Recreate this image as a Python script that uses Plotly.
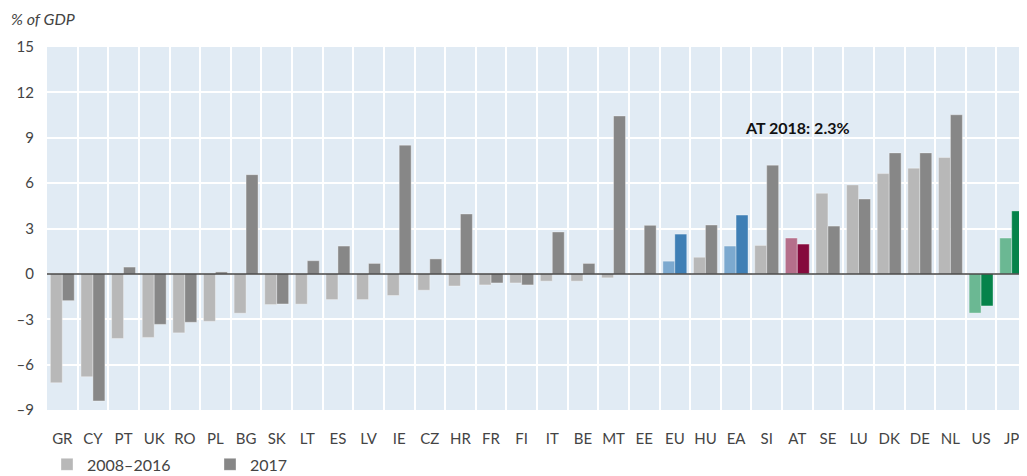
import plotly.graph_objects as go

categories = ["GR", "CY", "PT", "UK", "RO", "PL", "BG", "SK", "LT", "ES", "LV", "IE", "CZ", "HR",
              "FR", "FI", "IT", "BE", "MT", "EE", "EU", "HU", "EA", "SI", "AT", "SE", "LU", "DK",
              "DE", "NL", "US", "JP"]
avg_2008_2016 = [-7.2, -6.8, -4.27, -4.2, -3.9, -3.14, -2.6, -2.03, -2.0, -1.7, -1.7, -1.43, -1.08, -0.8,
                 -0.73, -0.6, -0.48, -0.48, -0.26, 0.02, 0.84, 1.1, 1.84, 1.88, 2.37, 5.33, 5.88, 6.63,
                 6.99, 7.69, -2.59, 2.37]
val_2017 = [-1.77, -8.4, 0.45, -3.34, -3.2, 0.13, 6.56, -1.99, 0.87, 1.84, 0.69, 8.51, 0.99, 3.96,
            -0.6, -0.73, 2.77, 0.69, 10.44, 3.21, 2.63, 3.23, 3.89, 7.19, 1.97, 3.16, 4.95, 8.0,
            8.0, 10.52, -2.12, 4.16]
y_ticks = [-9, -6, -3, 0, 3, 6, 9, 12, 15]
y_ticklabels = ["–9", "–6", "–3", "0", "3", "6", "9", "12", "15"]
annotation_text = "AT 2018: 2.3%"
annotation_value = 9.7

light_map = {"EU": "#7CA9CF", "EA": "#7CA9CF", "AT": "#B56F8B", "US": "#6BB893", "JP": "#6BB893"}
dark_map = {"EU": "#3F7FB5", "EA": "#3F7FB5", "AT": "#850A3D", "US": "#05834A", "JP": "#05834A"}
light_colors = [light_map.get(c, "#B8B8B8") for c in categories]
dark_colors = [dark_map.get(c, "#878787") for c in categories]

font_family = "Lato, 'Open Sans', sans-serif"

fig = go.Figure()
fig.add_trace(go.Bar(x=categories, y=avg_2008_2016, name="2008–2016",
                     marker=dict(color=light_colors, line=dict(color="rgba(255,255,255,0.35)", width=1))))
fig.add_trace(go.Bar(x=categories, y=val_2017, name="2017",
                     marker=dict(color=dark_colors, line=dict(color="rgba(255,255,255,0.35)", width=1))))

fig.add_annotation(x="AT", y=annotation_value, text="<b>" + annotation_text + "</b>", showarrow=False,
                   font=dict(family=font_family, size=16, color="#111111"), xanchor="center", yanchor="middle")
fig.add_annotation(x=0, xref="paper", y=1, yref="paper", xshift=-38, yshift=29,
                   text="<i>% of GDP</i>", showarrow=False, xanchor="left", yanchor="middle",
                   font=dict(family=font_family, size=16, color="#444444"))
# zero reference line drawn above the bars
fig.add_shape(type="line", xref="paper", x0=0, x1=1, yref="y", y0=0, y1=0,
              line=dict(color="#444444", width=1.5), layer="above")

# the page adds an 8px body margin, so the figure is sized to fill the rest of the window
fig.update_layout(
    width=1019, height=468,
    margin=dict(l=39, r=0, t=39, b=66, autoexpand=False),
    paper_bgcolor="white",
    plot_bgcolor="#E1EBF4",
    barmode="group",
    bargap=0.22,
    bargroupgap=0,
    font=dict(family=font_family, size=15, color="#444444"),
    showlegend=True,
    legend=dict(orientation="h", x=0, xanchor="left", y=-0.15, yanchor="middle",
                entrywidth=118, entrywidthmode="pixels", itemwidth=30,
                font=dict(family=font_family, size=16, color="#444444"),
                bgcolor="rgba(0,0,0,0)"),
    xaxis=dict(type="category", tickson="boundaries", showgrid=True, gridcolor="white", gridwidth=1.5,
               range=[-0.5, len(categories) - 0.5], automargin=False, tickangle=0,
               ticks="", showline=False, zeroline=False, tickfont=dict(size=15, color="#444444"),
               ticklabelstandoff=18),
    yaxis=dict(range=[-9, 15], tickvals=y_ticks, ticktext=y_ticklabels, showgrid=True, automargin=False,
               gridcolor="white", gridwidth=1.5, zeroline=False,
               ticks="", showline=False, tickfont=dict(size=15, color="#444444"), ticklabelstandoff=12),
)

fig.write_html("out.html")
